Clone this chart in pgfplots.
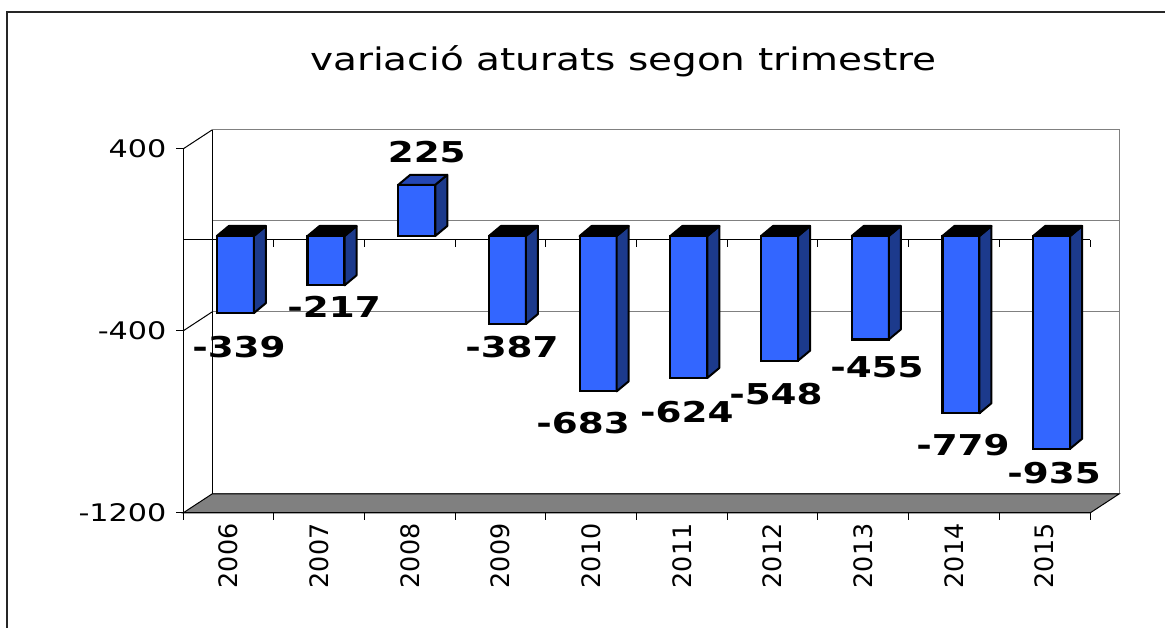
\documentclass[border=0pt]{standalone}
\usepackage{fontspec}
\setmainfont{DejaVu Sans}
\newfontfamily\stretchfont{DejaVu Sans}[FakeStretch=1.25]
\newfontfamily\lblfont{DejaVu Sans Bold}[FakeStretch=1.3]
\usepackage{pgfplots}
\pgfplotsset{compat=1.18}
\usepackage{pgfplotstable}
\definecolor{barfront}{HTML}{3366FF}
\definecolor{barside}{HTML}{1C3A8C}
\definecolor{bartop}{HTML}{2447B5}
\definecolor{floorgray}{HTML}{808080}
\definecolor{wallgray}{HTML}{808080}

\pgfplotstableread{
x y dx dy
0 -339 10.6 -30
1 -217 15 -17.6
2 225 17 36.8
3 -387 11.5 -19
4 -683 -8 -27.6
5 -624 5 -30
6 -548 3.4 -29.3
7 -455 13.7 -23.5
8 -779 9 -27.8
9 -935 9.4 -20.3
}\datatable

\pgfdeclareplotmark{emptymark}{}

\begin{document}
\begin{tikzpicture}[x=1bp,y=1bp]
\path[use as bounding box] (0,0) rectangle (1165,628);
\draw[line width=1.2bp, black!85] (7,0) -- (7,616) -- (1165,616);
\node[anchor=base, inner sep=0pt, font=\stretchfont\fontsize{31.3}{33}\selectfont] at (623.5,557) {variació aturats segon trimestre};
% back wall, side wall and floor (decoration)
\filldraw[fill=white, draw=wallgray, line width=1bp] (212,134) rectangle (1119,498);
\draw[wallgray, line width=1bp] (212,407) -- (1119,407);
\draw[wallgray, line width=1bp] (212,316) -- (1119,316);
\draw[black, line width=1bp] (212,134) -- (212,498);
\draw[black, line width=1bp] (183,479) -- (212,498);
\draw[black, line width=1bp] (183,297) -- (212,316);
\filldraw[fill=floorgray, draw=black, line width=1bp] (183,115) -- (212,134) -- (1119,134) -- (1090,115) -- cycle;
\draw[black, line width=1bp] (273.7,388) -- ++(0,-7) (364.4,388) -- ++(0,-7) (455.1,388) -- ++(0,-7)
  (545.8,388) -- ++(0,-7) (636.5,388) -- ++(0,-7) (727.2,388) -- ++(0,-7) (817.9,388) -- ++(0,-7)
  (908.6,388) -- ++(0,-7) (999.3,388) -- ++(0,-7) (1090,388) -- ++(0,-7);
\begin{axis}[
  at={(183bp,115bp)}, anchor=south west,
  scale only axis, width=907bp, height=364bp,
  clip=false,
  xmin=-0.5, xmax=9.5, ymin=-1200, ymax=400,
  separate axis lines,
  axis x line*=bottom, axis y line*=left,
  x axis line style={-}, y axis line style={-},
  axis line style={black, line width=1bp},
  tick align=outside,
  xtick={0,...,9},
  xticklabels={2006,2007,2008,2009,2010,2011,2012,2013,2014,2015},
  major x tick style={draw=none},
  x tick label style={rotate=90, anchor=east, font=\fontsize{25.5}{27}\selectfont},
  extra x ticks={-0.5,0.5,1.5,2.5,3.5,4.5,5.5,6.5,7.5,8.5,9.5},
  extra x tick labels={},
  extra x tick style={major x tick style={draw=black, line width=1bp}},
  major tick length=7bp,
  ytick={-1200,-400,400},
  yticklabels={-1200,-400,400},
  y tick label style={font=\stretchfont\fontsize{24.3}{26}\selectfont, xshift=-6bp},
  major y tick style={black, line width=1bp},
  extra y ticks={0},
  extra y tick labels={},
  extra y tick style={grid=major, major grid style={black, line width=1bp}, major tick length=0pt},
]
\addplot[ybar, bar width=37bp, bar shift=0pt, fill=barfront, draw=black, line width=2.2bp, xshift=7bp, yshift=4bp]
  table[x=x, y=y] {\datatable};

\addplot[only marks, mark=emptymark, scatter, xshift=7bp, yshift=4bp,
  visualization depends on={rawy \as \ry},
  scatter/@pre marker code/.code={%
    \pgfscope
    \pgfkeys{/pgf/fpu=false}%
    \pgfmathsetmacro\hz{-1*(\ry)*0.2275}%
    \pgfsetlinewidth{2bp}\pgfsetstrokecolor{black}\pgfsetroundjoin
    \pgfsetfillcolor{barside}%
    \pgfpathmoveto{\pgfpoint{18.5bp}{0bp}}%
    \pgfpathlineto{\pgfpoint{30.5bp}{10bp}}%
    \pgfpathlineto{\pgfpoint{30.5bp}{\hz bp+10bp}}%
    \pgfpathlineto{\pgfpoint{18.5bp}{\hz bp}}%
    \pgfpathclose
    \pgfusepath{fill,stroke}%
    \ifdim\ry pt<0pt
      \pgfsetfillcolor{black}%
      \pgfpathmoveto{\pgfpoint{-18.5bp}{\hz bp}}%
      \pgfpathlineto{\pgfpoint{18.5bp}{\hz bp}}%
      \pgfpathlineto{\pgfpoint{30.5bp}{\hz bp+10bp}}%
      \pgfpathlineto{\pgfpoint{-6.5bp}{\hz bp+10bp}}%
    \else
      \pgfsetfillcolor{bartop}%
      \pgfpathmoveto{\pgfpoint{-18.5bp}{0bp}}%
      \pgfpathlineto{\pgfpoint{18.5bp}{0bp}}%
      \pgfpathlineto{\pgfpoint{30.5bp}{10bp}}%
      \pgfpathlineto{\pgfpoint{-6.5bp}{10bp}}%
    \fi
    \pgfpathclose
    \pgfusepath{fill,stroke}%
    \endpgfscope
  },
  scatter/@post marker code/.code={},
] table[x=x, y=y] {\datatable};

\addplot[only marks, mark=emptymark, nodes near coords, point meta=explicit symbolic,
  visualization depends on={\thisrow{dx} \as \ldx},
  visualization depends on={\thisrow{dy} \as \ldy},
  every node near coord/.append style={anchor=center, inner sep=0pt, xshift=\ldx bp, yshift=\ldy bp,
    font=\lblfont\fontsize{28.8}{30}\selectfont, text=black},
] table[x=x, y=y, meta=y] {\datatable};
\end{axis}
\end{tikzpicture}
\end{document}
